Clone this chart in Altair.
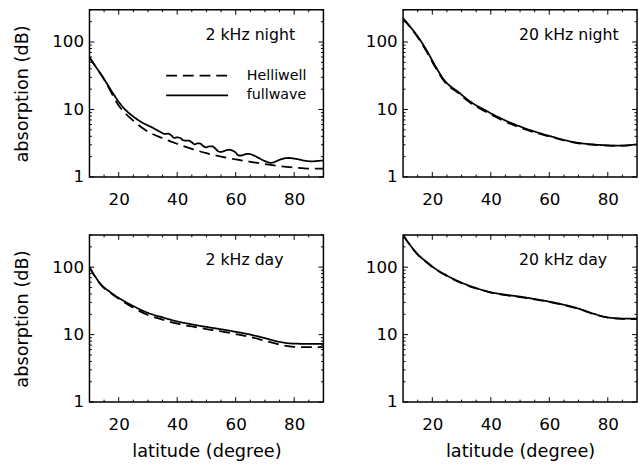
import altair as alt
import pandas as pd

# ---------------- data ----------------
# 2 kHz night
n2_full_lat = [10, 12, 14, 16, 18, 20, 22, 24, 26, 28, 30, 32, 34, 35, 36, 37, 38, 39, 40,
               41, 42, 43, 44, 45, 46, 47, 48, 49, 50, 51, 52, 53, 54, 55, 56, 57, 58, 59, 60,
               61, 62, 63, 64, 65, 66, 67, 68, 69, 70, 71, 72, 73, 74, 75, 76, 77, 78, 79, 80,
               81, 82, 83, 84, 85, 86, 87, 88, 89, 90]
n2_full_val = [60, 44, 33, 24, 17.5, 13, 10.2, 8.5, 7.3, 6.4, 5.8, 5.25, 4.7, 4.45, 4.35, 4.38, 4.12, 3.8, 3.85,
               3.8, 3.5, 3.45, 3.45, 3.25, 3.05, 3.15, 3.1, 2.85, 2.75, 2.85, 2.85, 2.65, 2.4, 2.35, 2.42, 2.5, 2.52, 2.45, 2.3,
               2.08, 2.08, 2.15, 2.2, 2.18, 2.1, 2.0, 1.9, 1.8, 1.72, 1.65, 1.62, 1.65, 1.72, 1.8, 1.86, 1.9, 1.91, 1.9, 1.87,
               1.84, 1.8, 1.76, 1.73, 1.71, 1.7, 1.71, 1.73, 1.74, 1.74]
n2_hell_lat = [10, 15, 20, 25, 30, 35, 40, 45, 50, 55, 60, 65, 70, 75, 80, 85, 90]
n2_hell_val = [58, 28, 11.5, 6.8, 4.7, 3.75, 3.1, 2.6, 2.25, 2.0, 1.82, 1.68, 1.55, 1.45, 1.38, 1.33, 1.33]

# 20 kHz night
n20_lat = [10, 12, 15, 18, 21, 24, 29, 33, 38, 44, 51, 60, 69, 78, 83, 86, 90]
n20_full_val = [225, 178, 121, 76, 44.4, 27.5, 18.0, 13.1, 9.8, 7.2, 5.4, 4.06, 3.25, 2.97, 2.91, 2.93, 3.05]
n20_hell_val = [222, 175, 118, 73, 42.5, 26.5, 17.3, 12.6, 9.4, 6.9, 5.2, 3.98, 3.2, 2.95, 2.9, 2.92, 3.03]

# 2 kHz day
d2_lat = [10, 12, 14, 17, 20, 25, 30, 35, 40, 45, 50, 55, 60, 65, 70, 75, 80, 85, 90]
d2_full_val = [100, 72, 55, 43, 35, 26.5, 21, 18, 15.7, 14.2, 13.0, 12.0, 11.0, 10.0, 8.85, 7.8, 7.35, 7.3, 7.3]
d2_hell_val = [100, 71, 54, 42, 34, 25, 19.5, 16.7, 14.5, 13.2, 12.1, 11.2, 10.2, 9.2, 8.1, 7.1, 6.6, 6.5, 6.5]

# 20 kHz day
d20_lat = [10, 12, 15, 18, 21, 25, 30, 35, 40, 45, 50, 55, 60, 65, 70, 75, 80, 85, 90]
d20_full_val = [300, 225, 155, 120, 95, 75, 59, 49, 42.5, 39, 36.5, 33.7, 30.8, 27.7, 24.3, 20.5, 18, 17.3, 17.2]
d20_hell_val = [298, 223, 153, 118, 93.5, 74, 58, 48.3, 42, 38.5, 36, 33.3, 30.4, 27.4, 24, 20.3, 17.8, 17.1, 17.0]

models = ["Helliwell", "fullwave"]
x_major = [20, 40, 60, 80]
x_minor = [15, 25, 30, 35, 45, 50, 55, 65, 70, 75, 85]
y_major = [1, 10, 100]
y_minor = [2, 3, 4, 5, 6, 7, 8, 9, 20, 30, 40, 50, 60, 70, 80, 90, 200, 300]

panel_labels = ["2 kHz night", "20 kHz night", "2 kHz day", "20 kHz day"]


def frame(h_lat, h_val, f_lat, f_val):
    a = pd.DataFrame({"lat": h_lat, "val": h_val, "model": models[0]})
    b = pd.DataFrame({"lat": f_lat, "val": f_val, "model": models[1]})
    return pd.concat([a, b], ignore_index=True)


W, H = 238, 170
FONT = "DejaVu Sans"
MAJ, MIN = 5, 2.5
DASH = [11, 6]
LW = 1.8


def legend_layers():
    d = alt.Chart(pd.DataFrame({"model": models}))
    out = []
    for name, ypos, dash in ((models[0], 67, DASH), (models[1], 87, [1, 0])):
        one = d.transform_filter(alt.datum.model == name)
        out.append(one.mark_rule(color="black", strokeWidth=LW, strokeDash=dash).encode(
            x=alt.value(78), x2=alt.value(141), y=alt.value(ypos)))
        out.append(one.mark_text(align="left", baseline="middle", fontSize=14.5,
                                 font=FONT, color="black").encode(
            text="model:N", x=alt.value(160), y=alt.value(ypos)))
    return out


def panel(df, label, xtitle, ytitle, legend):
    xs = alt.Scale(domain=[10, 90], nice=False, zero=False)
    ys = alt.Scale(type="log", domain=[1, 300], nice=False)
    base = alt.Chart(df)

    lines = base.mark_line(color="black", strokeWidth=LW, clip=True,
                           interpolate="monotone").encode(
        x=alt.X("lat:Q", scale=xs,
                axis=alt.Axis(values=x_major, ticks=False, tickSize=0, domain=False,
                              grid=False, labelFontSize=17, labelPadding=15,
                              title="latitude (degree)" if xtitle else None,
                              titleFontSize=18, titlePadding=10)),
        y=alt.Y("val:Q", scale=ys,
                axis=alt.Axis(values=y_major, format="d", ticks=False, tickSize=0,
                              domain=False, grid=False, labelFontSize=17, labelPadding=6,
                              title="absorption (dB)" if ytitle else None,
                              titleFontSize=18, titlePadding=21)),
        strokeDash=alt.StrokeDash("model:N",
                                  scale=alt.Scale(domain=models, range=[DASH, [1, 0]]),
                                  legend=None),
        detail="model:N",
    )

    # inward ticks on all four sides, positioned through the panel scales
    xt = pd.DataFrame({"v": x_major + x_minor,
                       "len": [MAJ] * len(x_major) + [MIN] * len(x_minor)})
    yt = pd.DataFrame({"v": y_major + y_minor,
                       "len": [MAJ] * len(y_major) + [MIN] * len(y_minor)})

    def xticks(major, top):
        L = MAJ if major else MIN
        y0, y1 = (0, L) if top else (H, H - L)
        return alt.Chart(xt).transform_filter(alt.datum.len == L).mark_rule(
            color="black", strokeWidth=1).encode(
            x=alt.X("v:Q", scale=xs, axis=None),
            y=alt.value(y0), y2=alt.value(y1))

    def yticks(major, right):
        L = MAJ if major else MIN
        x0, x1 = (W, W - L) if right else (0, L)
        return alt.Chart(yt).transform_filter(alt.datum.len == L).mark_rule(
            color="black", strokeWidth=1).encode(
            y=alt.Y("v:Q", scale=ys, axis=None),
            x=alt.value(x0), x2=alt.value(x1))

    ticks = [xticks(m, t) for m in (True, False) for t in (True, False)] + \
            [yticks(m, r) for m in (True, False) for r in (True, False)]

    txt = alt.Chart(pd.DataFrame({"label": [label]})).mark_text(
        align="left", baseline="middle", fontSize=16, font=FONT, color="black"
    ).encode(text="label:N", x=alt.value(118), y=alt.value(26))

    layers = [lines, *ticks, txt] + (legend_layers() if legend else [])
    return alt.layer(*layers).resolve_axis(
        x="independent", y="independent"
    ).properties(width=W, height=H)


p1 = panel(frame(n2_hell_lat, n2_hell_val, n2_full_lat, n2_full_val), panel_labels[0], False, True, True)
p2 = panel(frame(n20_lat, n20_hell_val, n20_lat, n20_full_val), panel_labels[1], False, False, False)
p3 = panel(frame(d2_lat, d2_hell_val, d2_lat, d2_full_val), panel_labels[2], True, True, False)
p4 = panel(frame(d20_lat, d20_hell_val, d20_lat, d20_full_val), panel_labels[3], True, False, False)

chart = alt.vconcat(
    alt.hconcat(p1, p2, spacing=39),
    alt.hconcat(p3, p4, spacing=39),
    spacing=25,
).properties(
    padding={"left": 12, "top": 4, "right": 0, "bottom": 0},
    background="white",
).configure_view(
    stroke="black", strokeWidth=1.5
).configure_axis(
    labelFont=FONT, titleFont=FONT, labelColor="black", titleColor="black",
    titleFontWeight="normal",
)

chart.save("out.html", embed_options={"renderer": "svg", "actions": False})
